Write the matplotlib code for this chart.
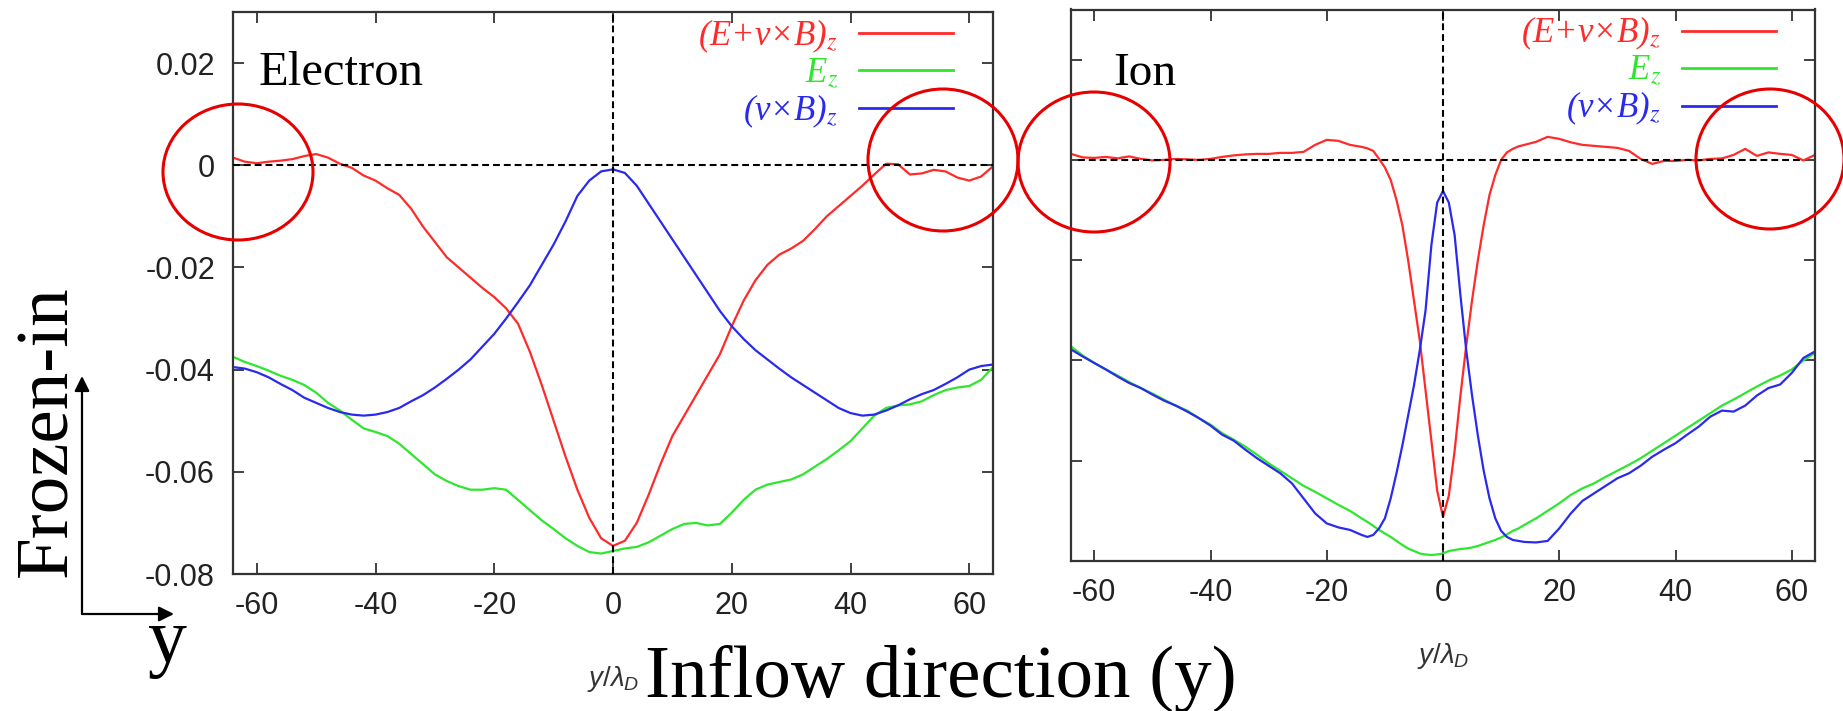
import matplotlib
matplotlib.use("Agg")
import matplotlib.pyplot as plt
from matplotlib.patches import Ellipse, FancyArrowPatch

W, H = 1843, 711

plt.rcParams["font.family"] = ["Liberation Sans", "DejaVu Sans"]
plt.rcParams["axes.unicode_minus"] = False
plt.rcParams["mathtext.fontset"] = "custom"
plt.rcParams["mathtext.it"] = "Liberation Sans:italic"
plt.rcParams["mathtext.rm"] = "Liberation Sans"

# ---- electron panel ----
x_electron = list(range(-64, 65, 2))
electron_total = [
    0.0015, 0.0007, 0.0004, 0.0007, 0.0009, 0.0012, 0.0018, 0.0022, 0.0015, 0.0003,
    -0.0005, -0.0020, -0.0030, -0.0045, -0.0058, -0.0085, -0.0120, -0.0150, -0.0180, -0.0200,
    -0.0220, -0.0240, -0.0258, -0.0280, -0.0310, -0.0365, -0.0430, -0.0500, -0.0570, -0.0635,
    -0.0690, -0.0730, -0.0745, -0.0735, -0.0700, -0.0645, -0.0585, -0.0530, -0.0490, -0.0450,
    -0.0410, -0.0370, -0.0315, -0.0265, -0.0225, -0.0195, -0.0175, -0.0163, -0.0148, -0.0125,
    -0.0100, -0.0080, -0.0060, -0.0040, -0.0018, 0.0003, 0.0002, -0.0018, -0.0016, -0.0009,
    -0.0012, -0.0024, -0.0030, -0.0022, -0.0002,
]
electron_ez = [
    -0.0375, -0.0385, -0.0393, -0.0402, -0.0412, -0.0420, -0.0430, -0.0445, -0.0465, -0.0480,
    -0.0498, -0.0515, -0.0522, -0.0530, -0.0545, -0.0565, -0.0585, -0.0605, -0.0618, -0.0628,
    -0.0635, -0.0635, -0.0632, -0.0635, -0.0655, -0.0675, -0.0695, -0.0712, -0.0730, -0.0745,
    -0.0757, -0.0760, -0.0755, -0.0750, -0.0747, -0.0738, -0.0725, -0.0712, -0.0702, -0.0700,
    -0.0705, -0.0702, -0.0680, -0.0655, -0.0635, -0.0625, -0.0620, -0.0615, -0.0605, -0.0590,
    -0.0575, -0.0558, -0.0540, -0.0515, -0.0490, -0.0475, -0.0470, -0.0468, -0.0462, -0.0450,
    -0.0440, -0.0435, -0.0432, -0.0420, -0.0395,
]
electron_vxb = [
    -0.0395, -0.0398, -0.0405, -0.0415, -0.0428, -0.0440, -0.0455, -0.0465, -0.0475, -0.0483,
    -0.0488, -0.0490, -0.0488, -0.0483, -0.0475, -0.0462, -0.0450, -0.0435, -0.0418, -0.0400,
    -0.0380, -0.0355, -0.0330, -0.0300, -0.0268, -0.0235, -0.0195, -0.0155, -0.0110, -0.0060,
    -0.0030, -0.0012, -0.0008, -0.0015, -0.0040, -0.0075, -0.0110, -0.0145, -0.0180, -0.0215,
    -0.0250, -0.0285, -0.0315, -0.0340, -0.0362, -0.0380, -0.0398, -0.0415, -0.0430, -0.0445,
    -0.0460, -0.0475, -0.0485, -0.0490, -0.0488, -0.0480, -0.0470, -0.0458, -0.0448, -0.0440,
    -0.0428, -0.0415, -0.0400, -0.0393, -0.0390,
]

# ---- ion panel ----
x_ion = list(range(-64, -13, 2)) + list(range(-13, 14)) + list(range(14, 65, 2))
ion_total = [
    0.0012, 0.0005, 0.0004, 0.0006, 0.0003, 0.0007, 0.0002, -0.0001, 0.0000, 0.0002,
    0.0001, 0.0000, 0.0002, 0.0006, 0.0009, 0.0011, 0.0012, 0.0012, 0.0014, 0.0014,
    0.0016, 0.0030, 0.0040, 0.0038, 0.0030, 0.0026,
    0.0023, 0.0018, 0.0002, -0.0015, -0.0040, -0.0080, -0.0130, -0.0200, -0.0280, -0.0360,
    -0.0460, -0.0560, -0.0660, -0.0712, -0.0670, -0.0580, -0.0470, -0.0370, -0.0280, -0.0200,
    -0.0130, -0.0070, -0.0030, 0.0000, 0.0015, 0.0022, 0.0027,
    0.0030, 0.0036, 0.0046, 0.0042, 0.0035, 0.0030, 0.0028, 0.0026, 0.0024, 0.0018,
    0.0002, -0.0008, -0.0002, -0.0002, 0.0000, -0.0001, 0.0002, 0.0003, 0.0010, 0.0022,
    0.0008, 0.0015, 0.0012, 0.0010, -0.0001, 0.0010,
]
ion_ez = [
    -0.0372, -0.0390, -0.0405, -0.0418, -0.0430, -0.0443, -0.0455, -0.0466, -0.0478, -0.0490,
    -0.0500, -0.0515, -0.0528, -0.0545, -0.0558, -0.0572, -0.0588, -0.0605, -0.0620, -0.0635,
    -0.0650, -0.0662, -0.0675, -0.0688, -0.0700, -0.0715,
    -0.0722, -0.0730, -0.0738, -0.0745, -0.0752, -0.0760, -0.0768, -0.0775, -0.0780, -0.0785,
    -0.0787, -0.0788, -0.0787, -0.0785, -0.0780, -0.0778, -0.0776, -0.0775, -0.0773, -0.0770,
    -0.0766, -0.0762, -0.0758, -0.0753, -0.0747, -0.0740, -0.0735,
    -0.0728, -0.0715, -0.0700, -0.0685, -0.0668, -0.0655, -0.0645, -0.0632, -0.0620, -0.0608,
    -0.0595, -0.0580, -0.0565, -0.0550, -0.0535, -0.0520, -0.0505, -0.0490, -0.0478, -0.0465,
    -0.0452, -0.0440, -0.0430, -0.0418, -0.0400, -0.0385,
]
ion_vxb = [
    -0.0378, -0.0392, -0.0405, -0.0418, -0.0432, -0.0445, -0.0455, -0.0468, -0.0480, -0.0490,
    -0.0502, -0.0515, -0.0530, -0.0548, -0.0560, -0.0578, -0.0595, -0.0610, -0.0625, -0.0645,
    -0.0675, -0.0705, -0.0725, -0.0733, -0.0738, -0.0748,
    -0.0752, -0.0748, -0.0735, -0.0715, -0.0675, -0.0625, -0.0570, -0.0510, -0.0450, -0.0380,
    -0.0300, -0.0170, -0.0085, -0.0062, -0.0085, -0.0150, -0.0270, -0.0380, -0.0470, -0.0550,
    -0.0620, -0.0675, -0.0715, -0.0740, -0.0752, -0.0758, -0.0760,
    -0.0762, -0.0763, -0.0760, -0.0735, -0.0705, -0.0680, -0.0665, -0.0650, -0.0635, -0.0625,
    -0.0610, -0.0592, -0.0578, -0.0565, -0.0548, -0.0532, -0.0512, -0.0500, -0.0502, -0.0490,
    -0.0470, -0.0455, -0.0448, -0.0425, -0.0395, -0.0382,
]

x_ticks = [-60, -40, -20, 0, 20, 40, 60]
x_tick_labels = ["-60", "-40", "-20", "0", "20", "40", "60"]
y_ticks = [-0.08, -0.06, -0.04, -0.02, 0, 0.02]
y_tick_labels = ["-0.08", "-0.06", "-0.04", "-0.02", "0", "0.02"]

series_labels = ["(E+v×B)$_z$", "E$_z$", "(v×B)$_z$"]
series_colors = ["#ff2a2a", "#2ee62e", "#2a2aee"]
axis_color = "#333333"
circle_color = "#e80000"


def fig_xy(px, py):
    # pixel position (from top-left) -> figure fraction
    return px / W, 1 - py / H


def make_axes(fig, left, top, right, bottom):
    x0, y1 = fig_xy(left, top)
    x1, y0 = fig_xy(right, bottom)
    return fig.add_axes([x0, y0, x1 - x0, y1 - y0])


def draw_panel(ax, x, curves, ylim, label_left, hline_span, xlabel_y):
    for y, lab, col in zip(curves, series_labels, series_colors):
        ax.plot(x, y, color=col, lw=1.6, label=lab, zorder=2)
    ax.axhline(0, xmin=hline_span[0], xmax=hline_span[1], color="k",
               lw=1.5, ls=(0, (3.3, 1.9)), zorder=3)
    ax.axvline(0, color="k", lw=1.5, ls=(0, (3.3, 1.9)), zorder=3)

    ax.set_xlim(-64, 64)
    ax.set_ylim(*ylim)
    ax.set_xticks(x_ticks, x_tick_labels)
    ax.set_yticks(y_ticks, y_tick_labels)
    ax.tick_params(direction="in", top=True, right=True, length=8, width=1.3,
                   color=axis_color, labelsize=22, labelcolor="#222222",
                   labelleft=label_left)
    ax.tick_params(axis="x", pad=12)
    ax.tick_params(axis="y", pad=13)
    for sp in ax.spines.values():
        sp.set_color(axis_color)
        sp.set_linewidth(1.6)

    ax.set_xlabel(r"$y/\lambda_D$", fontsize=20, color="#333333")
    ax.xaxis.set_label_coords(0.5, xlabel_y)

    leg = ax.legend(loc="upper right", bbox_to_anchor=(0.947, 0.99),
                    frameon=False, markerfirst=False, handlelength=2.7,
                    handletextpad=0.6, labelspacing=0.05, borderpad=0,
                    borderaxespad=0,
                    prop={"family": "Liberation Serif", "style": "italic", "size": 25})
    for t, col in zip(leg.get_texts(), series_colors):
        t.set_color(col)
        t.set_math_fontfamily("stix")
    for ln in leg.get_lines():
        ln.set_linewidth(2.0)


fig = plt.figure(figsize=(W / 100, H / 100), dpi=100)

ax_e = make_axes(fig, 233, 12, 993, 574)
draw_panel(ax_e, x_electron, [electron_total, electron_ez, electron_vxb],
           (-0.08, 0.03), True, (0, 1), -0.16)

ax_i = make_axes(fig, 1071, 9.5, 1815, 561)
draw_panel(ax_i, x_ion, [ion_total, ion_ez, ion_vxb],
           (-0.0792, 0.03), False, (0.01, 0.98), -0.145)

serif = "Liberation Serif"
fig.text(*fig_xy(259, 85), "Electron", family=serif, fontsize=35, va="baseline")
fig.text(*fig_xy(1113, 85), "Ion", family=serif, fontsize=34, va="baseline")

fig.text(*fig_xy(49, 431), "Frozen-in", family=serif, fontsize=54,
         rotation=90, ha="center", va="center")
fig.text(*fig_xy(167, 662), "y", family=serif, fontsize=56,
         ha="center", va="baseline")
fig.text(*fig_xy(645, 697), "Inflow direction (y)", family=serif, fontsize=54,
         ha="left", va="baseline")

# axis arrows in the lower left corner
for end in [(82, 376), (174, 614)]:
    arr = FancyArrowPatch(fig_xy(82, 614), fig_xy(*end), transform=fig.transFigure,
                          arrowstyle="-|>,head_length=9,head_width=4.5",
                          color="black", lw=1.6, shrinkA=0, shrinkB=0)
    fig.add_artist(arr)

# red rings around the edge regions
for cx, cy, rx, ry in [(238, 172, 75, 68), (943, 160, 75, 71),
                       (1094, 162, 76, 70), (1770, 159, 74, 70)]:
    ell = Ellipse(fig_xy(cx, cy), 2 * rx / W, 2 * ry / H, transform=fig.transFigure,
                  fill=False, edgecolor=circle_color, lw=2.2, clip_on=False)
    fig.add_artist(ell)

fig.savefig("out.png", dpi=100, facecolor="white")
